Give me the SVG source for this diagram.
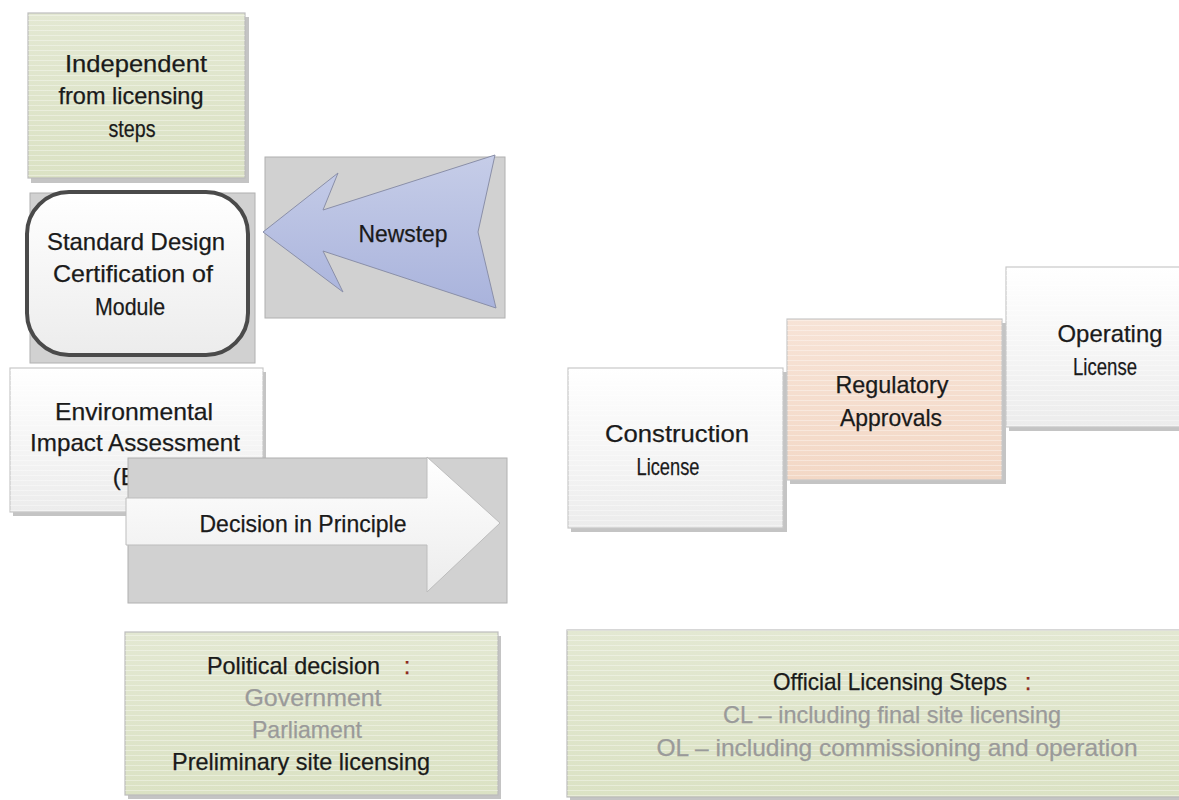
<svg xmlns="http://www.w3.org/2000/svg" width="1179" height="800" viewBox="0 0 1179 800">
<defs>
<linearGradient id="gWhite" x1="0" y1="0" x2="0" y2="1"><stop offset="0" stop-color="#ffffff"/><stop offset="1" stop-color="#ececec"/></linearGradient>
<linearGradient id="gGreen" x1="0" y1="0" x2="0" y2="1"><stop offset="0" stop-color="#e3e8d2"/><stop offset="1" stop-color="#dbe2c4"/></linearGradient>
<linearGradient id="gPeach" x1="0" y1="0" x2="0" y2="1"><stop offset="0" stop-color="#f7e3d6"/><stop offset="1" stop-color="#f3d8c6"/></linearGradient>
<linearGradient id="gBlue" x1="0" y1="0" x2="0" y2="1"><stop offset="0" stop-color="#c6cde8"/><stop offset="1" stop-color="#a9b3dc"/></linearGradient>
<pattern id="stripes" width="8" height="5" patternUnits="userSpaceOnUse"><rect width="8" height="1" fill="#ffffff" opacity="0.35"/></pattern>
</defs>
<style>
text{font-family:"Liberation Sans",Arial,sans-serif;font-size:24px;fill:#1a1a1a;stroke:#1a1a1a;stroke-width:0.25;text-anchor:middle}
.shadow{fill:#c4c4c4}
.grayrect{fill:#d1d1d1;stroke:#b0b0b0;stroke-width:1}
.white{fill:url(#gWhite);stroke:#c9c9c9;stroke-width:1.2}
.green{fill:url(#gGreen);stroke:#bdbdbd;stroke-width:1.2}
.peach{fill:url(#gPeach);stroke:#c9c9c9;stroke-width:1.2}
.st{fill:url(#stripes)}
text.grey{fill:#9a9a9a;stroke:#9a9a9a}
.red{fill:#8b2a1a;stroke:#8b2a1a}
</style>
<rect width="1179" height="800" fill="#ffffff"/>

<g id="independent">
<rect class="shadow" x="31" y="17" width="218" height="166"/>
<rect class="green" x="28" y="13" width="217" height="165"/>
<rect class="st" x="28" y="13" width="217" height="165"/>
<text x="136" y="72" textLength="142" lengthAdjust="spacingAndGlyphs">Independent</text>
<text x="131" y="104" textLength="145" lengthAdjust="spacingAndGlyphs">from licensing</text>
<text x="132" y="137" textLength="47" lengthAdjust="spacingAndGlyphs">steps</text>
</g>

<g id="standard-design">
<rect class="grayrect" x="30" y="193" width="225" height="170"/>
<rect x="27" y="192" width="221" height="163" rx="42" fill="url(#gWhite)" stroke="#4a4a4a" stroke-width="4"/>
<text x="136" y="250" textLength="178" lengthAdjust="spacingAndGlyphs">Standard Design</text>
<text x="133" y="282" textLength="160" lengthAdjust="spacingAndGlyphs">Certification of</text>
<text x="130" y="315" textLength="70" lengthAdjust="spacingAndGlyphs">Module</text>
</g>

<g id="newstep">
<rect class="grayrect" x="265" y="157" width="240" height="161"/>
<polygon points="263,232 338,173 323,210 495,155 478,232 496,308 323,251 343,292" fill="url(#gBlue)" stroke="#8a8fa8" stroke-width="1"/>
<text x="403" y="242" textLength="89" lengthAdjust="spacingAndGlyphs">Newstep</text>
</g>

<g id="eia">
<rect class="shadow" x="13" y="372" width="253" height="144"/>
<rect class="white" x="10" y="368" width="253" height="144"/>
<rect class="st" x="10" y="368" width="253" height="144"/>
<text x="134" y="420" textLength="158" lengthAdjust="spacingAndGlyphs">Environmental</text>
<text x="135" y="451" textLength="210" lengthAdjust="spacingAndGlyphs">Impact Assessment</text>
<text x="140" y="485">(EIA)</text>
</g>

<g id="decision">
<rect class="grayrect" x="128" y="458" width="379" height="145"/>
<polygon points="126,498 427,498 427,457 500,523 427,592 427,545 126,545" fill="url(#gWhite)" stroke="#bdbdbd" stroke-width="1"/>
<text x="303" y="532" textLength="207" lengthAdjust="spacingAndGlyphs">Decision in Principle</text>
</g>

<g id="construction">
<rect class="shadow" x="571" y="372" width="216" height="160"/>
<rect class="white" x="568" y="368" width="215" height="160"/>
<rect class="st" x="568" y="368" width="215" height="160"/>
<text x="677" y="442" textLength="144" lengthAdjust="spacingAndGlyphs">Construction</text>
<text x="668" y="475" textLength="63" lengthAdjust="spacingAndGlyphs">License</text>
</g>

<g id="regulatory">
<rect class="shadow" x="790" y="323" width="216" height="161"/>
<rect class="peach" x="787" y="319" width="215" height="161"/>
<rect class="st" x="787" y="319" width="215" height="161"/>
<text x="892" y="393" textLength="113" lengthAdjust="spacingAndGlyphs">Regulatory</text>
<text x="891" y="426" textLength="102" lengthAdjust="spacingAndGlyphs">Approvals</text>
</g>

<g id="operating">
<rect class="shadow" x="1009" y="271" width="190" height="160"/>
<rect class="white" x="1006" y="267" width="190" height="160"/>
<rect class="st" x="1006" y="267" width="190" height="160"/>
<text x="1110" y="342" textLength="105" lengthAdjust="spacingAndGlyphs">Operating</text>
<text x="1105" y="375" textLength="64" lengthAdjust="spacingAndGlyphs">License</text>
</g>

<g id="political">
<rect class="shadow" x="128" y="636" width="373" height="163"/>
<rect class="green" x="125" y="632" width="373" height="163"/>
<rect class="st" x="125" y="632" width="373" height="163"/>
<text x="293.5" y="674" textLength="173" lengthAdjust="spacingAndGlyphs">Political decision</text>
<text x="407" y="674" class="red">:</text>
<text x="313" y="706" class="grey" textLength="137" lengthAdjust="spacingAndGlyphs">Government</text>
<text x="307" y="738" class="grey" textLength="110" lengthAdjust="spacingAndGlyphs">Parliament</text>
<text x="301" y="770" textLength="258" lengthAdjust="spacingAndGlyphs">Preliminary site licensing</text>
</g>

<g id="official">
<rect class="shadow" x="570" y="634" width="620" height="167"/>
<rect class="green" x="567" y="630" width="620" height="167"/>
<rect class="st" x="567" y="630" width="620" height="167"/>
<text x="890" y="690" textLength="234" lengthAdjust="spacingAndGlyphs">Official Licensing Steps</text>
<text x="1028" y="690" class="red">:</text>
<text x="892" y="723" class="grey" textLength="338" lengthAdjust="spacingAndGlyphs">CL – including final site licensing</text>
<text x="897" y="756" class="grey" textLength="481" lengthAdjust="spacingAndGlyphs">OL – including commissioning and operation</text>
</g>

<g id="connectors"></g>
</svg>
